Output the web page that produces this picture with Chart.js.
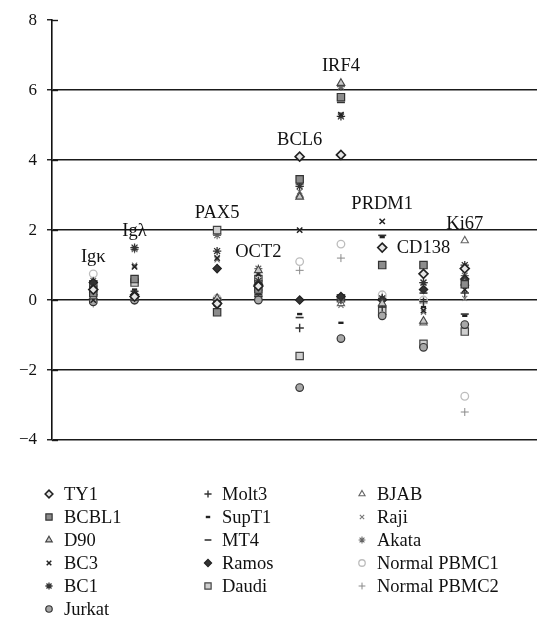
<!DOCTYPE html>
<html>
<head>
<meta charset="utf-8">
<script src="https://cdn.jsdelivr.net/npm/chart.js@4.4.1/dist/chart.umd.min.js"></script>
<style>
  html, body { margin: 0; padding: 0; background: #fff; }
  #wrap { width: 550px; height: 630px; position: relative; }
</style>
</head>
<body>
<div id="wrap"><canvas id="c" width="550" height="630"></canvas></div>
<script>
// Marker genes (one column each) and the y axis tick values
const categories = ['Ig\u03BA', 'Ig\u03BB', 'PAX5', 'OCT2', 'BCL6', 'IRF4', 'PRDM1', 'CD138', 'Ki67'];
const yTicks = [8, 6, 4, 2, 0, -2, -4];

// Relative expression per cell line, in the order of `categories`
const TY1    = [0.30, 0.10, -0.10, 0.40, 4.10, 4.15, 1.50, 0.75, 0.90];
const BCBL1  = [0.20, 0.60, -0.35, 0.30, 3.45, 5.80, 1.00, 1.00, 0.45];
const D90    = [0.10, 0.05, 0.05, 0.85, 2.95, 6.20, -0.10, -0.60, 0.50];
const BC3    = [0.00, 0.95, 1.20, 0.75, 2.00, 5.30, 2.25, -0.30, 0.30];
const BC1    = [0.40, 1.50, 1.40, 0.55, 3.25, 5.25, 0.05, 0.50, 1.00];
const Jurkat = [-0.05, 0.00, -0.10, 0.00, -2.50, -1.10, -0.45, -1.35, -0.70];
const Molt3  = [0.15, 0.00, 0.05, 0.10, -0.80, 0.00, -0.20, -0.05, 0.20];
const SupT1  = [0.25, 0.30, 0.00, 0.20, -0.40, -0.65, 1.80, -0.20, -0.45];
const MT4    = [0.35, 0.25, -0.05, 0.15, -0.50, 5.65, 1.85, 0.20, -0.40];
const Ramos  = [0.50, 0.15, 0.90, 0.45, 0.00, 0.10, 0.00, 0.30, 0.60];
const Daudi  = [0.45, 0.50, 2.00, 0.60, -1.60, 0.05, -0.30, -1.25, -0.90];
const BJAB   = [0.30, 0.05, 1.95, 0.35, 3.00, -0.10, -0.35, -0.65, 1.70];
const Raji   = [0.20, 1.00, 1.15, 0.80, 3.10, -0.15, -0.40, -0.35, 0.05];
const Akata  = [0.55, 1.45, 1.85, 0.90, 3.30, 6.10, -0.25, 0.50, 0.70];
const PBMC1  = [0.75, 0.00, 0.05, 0.10, 1.10, 1.60, 0.15, 0.00, -2.75];
const PBMC2  = [-0.10, 0.00, 0.00, 0.00, 0.85, 1.20, 0.10, -0.10, -3.20];

const seriesNames = ['TY1', 'BCBL1', 'D90', 'BC3', 'BC1', 'Jurkat', 'Molt3', 'SupT1', 'MT4',
                     'Ramos', 'Daudi', 'BJAB', 'Raji', 'Akata', 'Normal PBMC1', 'Normal PBMC2'];
const seriesValues = [TY1, BCBL1, D90, BC3, BC1, Jurkat, Molt3, SupT1, MT4,
                      Ramos, Daudi, BJAB, Raji, Akata, PBMC1, PBMC2];

// Marker look of each cell line
const markerStyles = {
  'TY1':          { pointStyle: 'rectRot',  radius: 4.5, fill: '#e6e6e6', stroke: '#222', width: 1.6 },
  'BCBL1':        { pointStyle: 'rect',     radius: 5.2, fill: '#8c8c8c', stroke: '#333', width: 1.2 },
  'D90':          { pointStyle: 'triangle', radius: 4.5, fill: '#c8c8c8', stroke: '#444', width: 1.1 },
  'BC3':          { pointStyle: 'crossRot', radius: 3.8, fill: '#222',    stroke: '#222', width: 1.5 },
  'BC1':          { pointStyle: 'star',     radius: 4.2, fill: '#333',    stroke: '#333', width: 1.3 },
  'Jurkat':       { pointStyle: 'circle',   radius: 3.8, fill: '#a8a8a8', stroke: '#333', width: 1.2 },
  'Molt3':        { pointStyle: 'cross',    radius: 4.2, fill: '#333',    stroke: '#333', width: 1.4 },
  'SupT1':        { pointStyle: 'line',     radius: 2.6, fill: '#222',    stroke: '#222', width: 2.4 },
  'MT4':          { pointStyle: 'line',     radius: 4.0, fill: '#333',    stroke: '#333', width: 1.6 },
  'Ramos':        { pointStyle: 'rectRot',  radius: 4.2, fill: '#333',    stroke: '#222', width: 1.2 },
  'Daudi':        { pointStyle: 'rect',     radius: 5.2, fill: '#cfcfcf', stroke: '#444', width: 1.2 },
  'BJAB':         { pointStyle: 'triangle', radius: 4.2, fill: '#ffffff', stroke: '#666', width: 1.1 },
  'Raji':         { pointStyle: 'crossRot', radius: 3.6, fill: '#777',    stroke: '#777', width: 1.1 },
  'Akata':        { pointStyle: 'star',     radius: 4.0, fill: '#666',    stroke: '#666', width: 1.1 },
  'Normal PBMC1': { pointStyle: 'circle',   radius: 3.8, fill: 'rgba(0,0,0,0)', stroke: '#bdbdbd', width: 1.3 },
  'Normal PBMC2': { pointStyle: 'cross',    radius: 4.0, fill: '#8a8a8a', stroke: '#8a8a8a', width: 1.0 }
};

// Column slot of each gene on the hidden x axis (one empty slot after the Ig pair)
const slotOf = i => i + (i >= 2 ? 1 : 0);

const datasets = seriesNames.map((name, k) => {
  const st = markerStyles[name];
  return {
    label: name,
    data: seriesValues[k].map((v, i) => ({ x: slotOf(i), y: v })),
    pointStyle: st.pointStyle,
    pointRadius: st.radius,
    pointBackgroundColor: st.fill,
    pointBorderColor: st.stroke,
    pointBorderWidth: st.width,
    showLine: false,
    clip: false
  };
});

const serif = "'Liberation Serif', 'DejaVu Serif', serif";

// Gene names written just above the highest point of each column
const geneLabels = {
  id: 'geneLabels',
  afterDatasetsDraw(chart) {
    const { ctx, scales } = chart;
    ctx.save();
    ctx.font = '18.5px ' + serif;
    ctx.fillStyle = '#111';
    ctx.textAlign = 'center';
    ctx.textBaseline = 'alphabetic';
    categories.forEach((cat, i) => {
      const top = Math.max(...seriesValues.map(s => s[i]));
      const px = scales.x.getPixelForValue(slotOf(i));
      const py = scales.y.getPixelForValue(top) - 12;
      ctx.fillText(cat, px, py);
    });
    ctx.restore();
  }
};

// Short tick stubs on the inner side of the y axis
const innerTicks = {
  id: 'innerTicks',
  afterDraw(chart) {
    const { ctx, scales, chartArea } = chart;
    ctx.save();
    ctx.strokeStyle = '#1a1a1a';
    ctx.lineWidth = 1.4;
    yTicks.forEach(v => {
      const py = Math.round(scales.y.getPixelForValue(v)) + 0.5;
      ctx.beginPath();
      ctx.moveTo(chartArea.left, py);
      ctx.lineTo(chartArea.left + 6, py);
      ctx.stroke();
    });
    ctx.restore();
  }
};

// Three-column legend under the plot
const columnLegend = {
  id: 'columnLegend',
  afterDraw(chart) {
    const { ctx } = chart;
    const columns = [seriesNames.slice(0, 6), seriesNames.slice(6, 11), seriesNames.slice(11)];
    const markerX = [49, 208, 362];
    const textX = [64, 222, 377];
    const rowY0 = 494, rowStep = 23;
    ctx.save();
    ctx.font = '18.5px ' + serif;
    ctx.textBaseline = 'middle';
    ctx.textAlign = 'left';
    columns.forEach((col, c) => {
      col.forEach((name, r) => {
        const st = markerStyles[name];
        const y = rowY0 + r * rowStep;
        ctx.save();
        ctx.fillStyle = st.fill;
        ctx.strokeStyle = st.stroke;
        ctx.lineWidth = st.width;
        Chart.helpers.drawPoint(ctx, { pointStyle: st.pointStyle, radius: st.radius * 0.85, borderWidth: st.width, rotation: 0 }, markerX[c], y);
        ctx.restore();
        ctx.fillStyle = '#111';
        ctx.fillText(name, textX[c], y + 1);
      });
    });
    ctx.restore();
  }
};

new Chart(document.getElementById('c'), {
  type: 'scatter',
  data: { datasets },
  options: {
    responsive: false,
    animation: false,
    devicePixelRatio: 1,
    layout: { padding: { top: 16, right: 13, bottom: 190, left: 0 } },
    plugins: { legend: { display: false }, tooltip: { enabled: false } },
    scales: {
      x: { type: 'linear', min: -1, max: 10.75, display: false },
      y: {
        min: -4, max: 8,
        afterBuildTicks: s => { s.ticks = yTicks.map(v => ({ value: v })); },
        afterFit: s => { s.width = 52; },
        ticks: {
          color: '#111',
          padding: 10,
          font: { family: serif, size: 17 },
          callback: v => (v < 0 ? '\u2212' + Math.abs(v) : String(v))
        },
        grid: {
          color: c => (c.tick && c.tick.value === 8 ? 'rgba(0,0,0,0)' : '#1a1a1a'),
          lineWidth: 1.5,
          tickColor: '#1a1a1a',
          tickLength: 5,
          tickWidth: 1.4
        },
        border: { display: true, color: '#111', width: 1.6 }
      }
    }
  },
  plugins: [geneLabels, innerTicks, columnLegend]
});
</script>
</body>
</html>
